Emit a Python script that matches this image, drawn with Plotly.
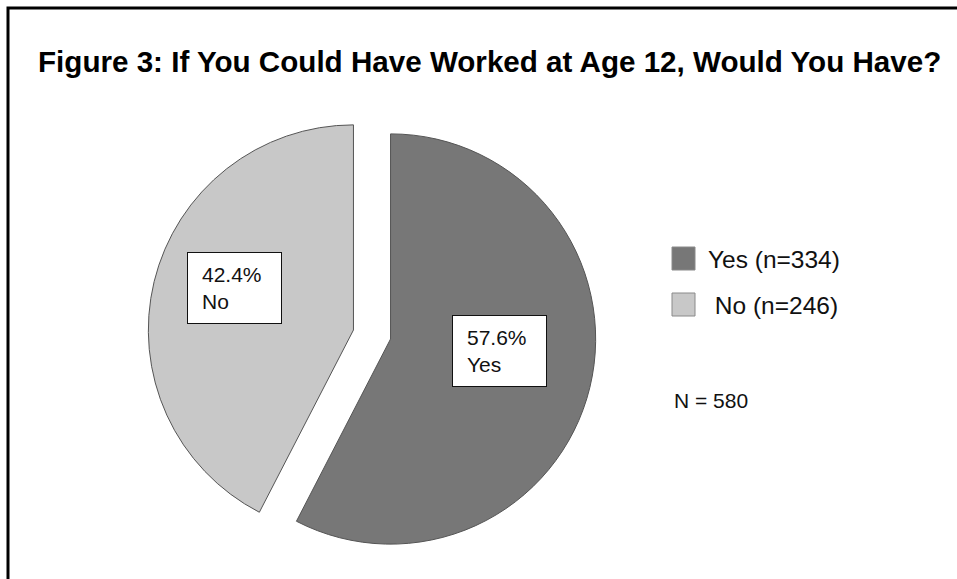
import plotly.graph_objects as go

# ---- data ----
categories = ["Yes", "No"]
counts = [334, 246]
colors = ["#777777", "#c8c8c8"]
legend_names = ["Yes", "\u00a0No"]
title_text = "Figure 3: If You Could Have Worked at Age 12, Would You Have?"

W, H = 957, 579
total = sum(counts)
pcts = [c / total * 100 for c in counts]

fig = go.Figure()
fig.add_trace(go.Pie(
    labels=categories,
    values=counts,
    sort=False,
    direction="clockwise",
    rotation=0,
    pull=[0.093, 0.093],
    marker=dict(colors=colors, line=dict(color="#555555", width=1)),
    textinfo="none",
    hoverinfo="label+percent+value",
    showlegend=False,
    domain=dict(x=[146.8 / W, 597.2 / W], y=[1 - 558.7 / H, 1 - 110.3 / H]),
))

font_family = "Arial, Liberation Sans, sans-serif"

# slice labels (boxes)
label_pos = [(499.5, 350.5), (234, 287.5)]
annotations = []
for cat, p, (px, py) in zip(categories, pcts, label_pos):
    annotations.append(dict(
        x=px / W, y=1 - py / H, xref="paper", yref="paper",
        text=f"{p:.1f}%<br>{cat}", showarrow=False, align="left",
        font=dict(family=font_family, size=21, color="#111111"),
        bgcolor="white", bordercolor="#111111", borderwidth=1,
        borderpad=14, width=65, height=42,
        xanchor="center", yanchor="middle",
    ))

# custom legend
shapes = []
leg_x0, leg_y0, leg_dy, sq = 672, 247, 46, 23
for i, (name, cnt, col) in enumerate(zip(legend_names, counts, colors)):
    y0 = leg_y0 + i * leg_dy
    shapes.append(dict(type="rect", xref="paper", yref="paper",
                       x0=leg_x0 / W, x1=(leg_x0 + sq) / W,
                       y0=1 - y0 / H, y1=1 - (y0 + sq) / H,
                       fillcolor=col, line=dict(color="#8a8a8a", width=1)))
    annotations.append(dict(
        x=706 / W, y=1 - (y0 + sq / 2 + 0.5) / H, xref="paper", yref="paper",
        text=f"{name} (n={cnt})", showarrow=False,
        xanchor="left", yanchor="middle",
        font=dict(family=font_family, size=24.5, color="#111111"),
    ))

annotations.append(dict(
    x=672 / W, y=1 - 400 / H, xref="paper", yref="paper",
    text=f"N = {total}", showarrow=False, xanchor="left", yanchor="middle",
    font=dict(family=font_family, size=21, color="#111111"),
))

# title
annotations.append(dict(
    x=490 / W, y=1 - 62 / H, xref="paper", yref="paper",
    text=f"<b>{title_text}</b>", showarrow=False,
    xanchor="center", yanchor="middle",
    font=dict(family=font_family, size=29.6, color="#000000"),
))

# outer frame (extends beyond right and bottom edges)
shapes.append(dict(type="rect", xref="paper", yref="paper",
                   x0=8 / W, x1=1.05, y0=-0.05, y1=1 - 8 / H,
                   line=dict(color="#000000", width=3), fillcolor="rgba(0,0,0,0)"))

fig.update_layout(
    width=W, height=H,
    margin=dict(l=0, r=0, t=0, b=0),
    paper_bgcolor="white", plot_bgcolor="white",
    annotations=annotations, shapes=shapes,
)

fig.write_html("out.html")
